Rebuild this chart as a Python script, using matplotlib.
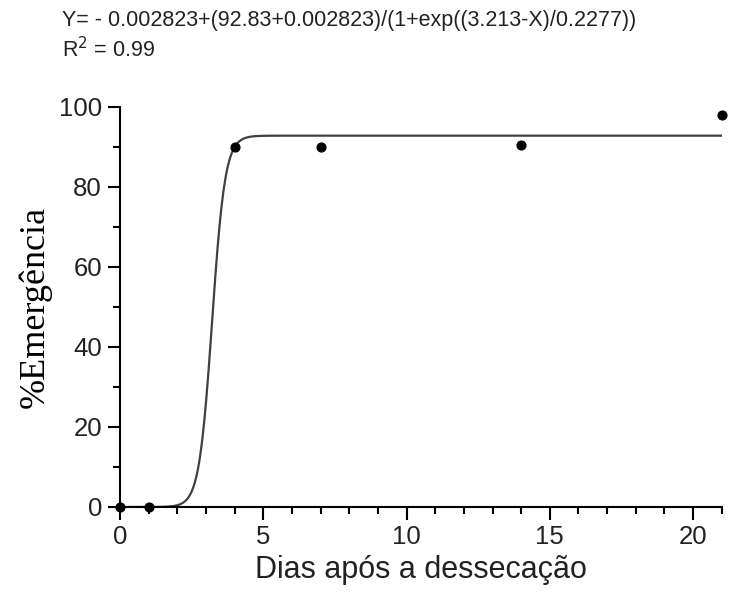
import numpy as np
import matplotlib
matplotlib.use("Agg")
import matplotlib.pyplot as plt
from matplotlib.ticker import MultipleLocator

# observed points
dias = [0, 1, 4, 7, 14, 21]
emergencia = [0, 0, 90, 90, 90.5, 98]

# fitted logistic parameters
y0, a, x0, b = -0.002823, 92.83, 3.213, 0.2277

xs = np.linspace(0, 21, 600)
ys = y0 + (a - y0) / (1 + np.exp((x0 - xs) / b))

fig = plt.figure(figsize=(7.41, 5.99), dpi=100)
ax = fig.add_axes([0.162, 0.1536, 0.812, 0.6678])

ax.plot(xs, ys, color="#404040", lw=1.6, zorder=2)
ax.plot(dias, emergencia, "o", color="black", ms=6.3, zorder=3, clip_on=False)

ax.set_xlim(0, 21)
ax.set_ylim(0, 100)
ax.xaxis.set_major_locator(MultipleLocator(5))
ax.xaxis.set_minor_locator(MultipleLocator(1))
ax.yaxis.set_major_locator(MultipleLocator(20))
ax.yaxis.set_minor_locator(MultipleLocator(10))
for s in ["top", "right"]:
    ax.spines[s].set_visible(False)
for s in ["left", "bottom"]:
    ax.spines[s].set_linewidth(1.5)
ax.tick_params(which="major", length=9, width=1.5, labelsize=18.5, pad=4, labelcolor="#222222")
ax.tick_params(which="minor", length=5, width=1.5)
for lab in ax.get_xticklabels() + ax.get_yticklabels():
    lab.set_family("Liberation Sans")

ax.set_xlabel("Dias após a dessecação", fontsize=22, family="Liberation Sans",
              labelpad=4, color="#222222")
ax.set_ylabel("%Emergência", fontsize=26, family="Liberation Serif", labelpad=5)

fig.text(0.084, 0.965, "Y= - 0.002823+(92.83+0.002823)/(1+exp((3.213-X)/0.2277))",
         fontsize=15.5, family="Liberation Sans", va="center", color="#222222")
fig.text(0.084, 0.918, "R$^2$ = 0.99", fontsize=15.5, family="Liberation Sans",
         va="center", color="#222222")

fig.savefig("out.png", dpi=100)
